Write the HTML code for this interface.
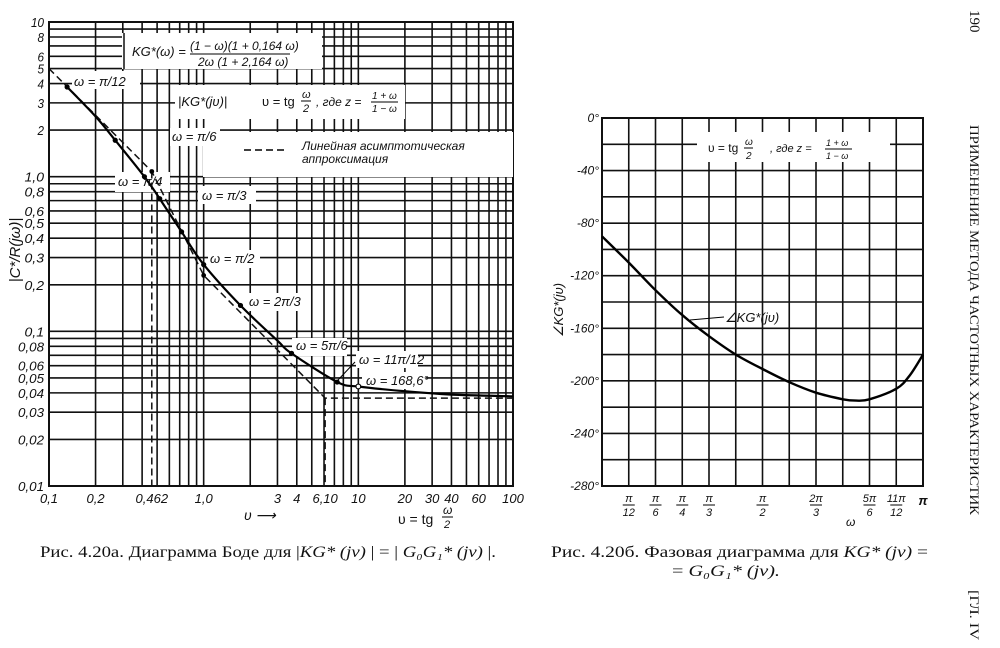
<!DOCTYPE html>
<html><head><meta charset="utf-8"><style>
html,body{margin:0;padding:0;background:#fff;}
svg{display:block;}
text{font-family:"Liberation Sans",sans-serif;fill:#111;}
.it{font-style:italic;}
</style></head><body>
<svg id="page" width="1000" height="648" viewBox="0 0 1000 648" xmlns="http://www.w3.org/2000/svg">
<g id="bode"></g>
<g id="phase"></g>
<g>
<text x="40" y="557" font-size="16" textLength="456" lengthAdjust="spacingAndGlyphs" style="font-family:'Liberation Serif',serif">Рис. 4.20а. Диаграмма Боде для  |<tspan font-style="italic">KG* (jv)</tspan> | = | <tspan font-style="italic">G₀G₁* (jv)</tspan> |.</text>
<text x="551" y="557" font-size="16" textLength="377" lengthAdjust="spacingAndGlyphs" style="font-family:'Liberation Serif',serif">Рис.  4.20б. Фазовая диаграмма для <tspan font-style="italic">KG* (jv)</tspan> =</text>
<text x="672" y="576" font-size="16" textLength="108" lengthAdjust="spacingAndGlyphs" style="font-family:'Liberation Serif',serif">= <tspan font-style="italic">G₀G₁* (jv).</tspan></text>
<text transform="translate(970,10) rotate(90)" font-size="15" style="font-family:'Liberation Serif',serif">190</text>
<text transform="translate(970,125) rotate(90)" font-size="13" textLength="390" lengthAdjust="spacingAndGlyphs" style="font-family:'Liberation Serif',serif">ПРИМЕНЕНИЕ  МЕТОДА  ЧАСТОТНЫХ  ХАРАКТЕРИСТИК</text>
<text transform="translate(970,590) rotate(90)" font-size="13" textLength="50" lengthAdjust="spacingAndGlyphs" style="font-family:'Liberation Serif',serif">[ГЛ. IV</text>
</g>
</svg>
<script>
// ---- Bode magnitude data ----
const magV = [0.131, 0.2, 0.268, 0.414, 0.52, 0.72, 1.0, 1.73, 3.0, 3.7, 7.3, 10, 20, 40, 100];
const magVal = [3.8, 2.45, 1.72, 1.0, 0.72, 0.44, 0.27, 0.147, 0.087, 0.072, 0.047, 0.044, 0.041, 0.039, 0.038];
const dotV = [0.131, 0.268, 0.414, 0.52, 0.72, 1.0, 1.73, 3.7, 7.3];
const dotVal = [3.8, 1.72, 1.0, 0.72, 0.44, 0.27, 0.147, 0.072, 0.047];
const asymV = [0.1, 0.462, 1.0, 6.1, 100];
const asymVal = [5.0, 1.08, 0.23, 0.037, 0.037];
const magYTicks = [10, 8, 6, 5, 4, 3, 2, 1.0, 0.8, 0.6, 0.5, 0.4, 0.3, 0.2, 0.1, 0.08, 0.06, 0.05, 0.04, 0.03, 0.02, 0.01];
const magYLabels = ["10","8","6","5","4","3","2","1,0","0,8","0,6","0,5","0,4","0,3","0,2","0,1","0,08","0,06","0,05","0,04","0,03","0,02","0,01"];
const magXTicks = [0.1, 0.2, 0.462, 1.0, 3, 4, 6.1, 10, 20, 30, 40, 60, 100];
const magXLabels = ["0,1","0,2","0,462","1,0","3","4","6,10","10","20","30","40","60","100"];
// ---- Phase data (omega in units of pi) ----
const phW = [0, 1/12, 2/12, 3/12, 4/12, 5/12, 6/12, 7/12, 8/12, 9/12, 9.5/12, 10/12, 11/12, 11.5/12, 1];
const phDeg = [-90, -110, -131, -150, -166, -180, -191, -201, -209, -214, -215, -214, -206, -196, -180];
const phYTicks = [0, -40, -80, -120, -160, -200, -240, -280];
const phXNum = ["π","π","π","π","π","2π","5π","11π"];
const phXDen = ["12","6","4","3","2","3","6","12"];
const phXVals = [1/12, 1/6, 1/4, 1/3, 1/2, 2/3, 5/6, 11/12];

const NS = "http://www.w3.org/2000/svg";
function mk(parent, tag, attrs, txt) {
  const e = document.createElementNS(NS, tag);
  for (const k in attrs) e.setAttribute(k, attrs[k]);
  if (txt !== undefined) e.textContent = txt;
  parent.appendChild(e);
  return e;
}
const L = {x0: 49, x1: 513, y0: 486, y1: 22};
function bx(v) { return L.x0 + (Math.log10(v) + 1) / 3 * (L.x1 - L.x0); }
function by(m) { return L.y0 - (Math.log10(m) + 2) / 3 * (L.y0 - L.y1); }
const bode = document.getElementById('bode');
const grid = mk(bode, 'g', {stroke: '#111', 'stroke-width': 1.6});


for (let d = -1; d < 2; d++) for (let k = 1; k < 10; k++) {
  const x = bx(k * Math.pow(10, d));
  mk(grid, 'line', {x1: x, x2: x, y1: L.y1, y2: L.y0});
}
for (let d = -2; d < 1; d++) for (let k = 1; k < 10; k++) {
  const y = by(k * Math.pow(10, d));
  mk(grid, 'line', {x1: L.x0, x2: L.x1, y1: y, y2: y});
}
mk(grid, 'rect', {x: L.x0, y: L.y1, width: L.x1 - L.x0, height: L.y0 - L.y1, fill: 'none', 'stroke-width': 2});
const boxes = [[122,33,200,36],[175,85,230,34],[203,132,310,45],[72,71,68,18],[170,128,50,18],[115,172,55,20],[198,186,58,18],[208,250,52,18],[246,293,55,18],[292,338,55,18],[356,351,62,17],[362,372,64,17]];
for (const b of boxes) {
  const r = mk(bode, 'rect', {x: b[0], y: b[1], width: b[2], height: b[3], fill: '#fff'});
  
  
}
mk(bode, 'line', {x1: 124, y1: 33, x2: 124, y2: 69, stroke: '#111', 'stroke-width': 1.5});
let d = '';
asymV.forEach((v, i) => { d += (i ? 'L' : 'M') + bx(v).toFixed(1) + ',' + by(asymVal[i]).toFixed(1); });
const asym = mk(bode, 'path', {d: d, fill: 'none', stroke: '#111', 'stroke-width': 1.5, 'stroke-dasharray': '7,4'});


const vd1 = mk(bode, 'line', {x1: bx(0.462), x2: bx(0.462), y1: by(1.08), y2: L.y0, stroke: '#111', 'stroke-width': 1.5, 'stroke-dasharray': '7,4'});


const vd2 = mk(bode, 'line', {x1: bx(6.1), x2: bx(6.1), y1: by(0.037), y2: L.y0, stroke: '#111', 'stroke-width': 1.5, 'stroke-dasharray': '7,4'});


function smooth(pts) {
  let s = 'M' + pts[0][0].toFixed(1) + ',' + pts[0][1].toFixed(1);
  for (let i = 0; i < pts.length - 1; i++) {
    const p0 = pts[Math.max(0, i - 1)], p1 = pts[i], p2 = pts[i + 1], p3 = pts[Math.min(pts.length - 1, i + 2)];
    const c1 = [p1[0] + (p2[0] - p0[0]) / 6, p1[1] + (p2[1] - p0[1]) / 6];
    const c2 = [p2[0] - (p3[0] - p1[0]) / 6, p2[1] - (p3[1] - p1[1]) / 6];
    s += 'C' + c1.map(n => n.toFixed(1)) + ' ' + c2.map(n => n.toFixed(1)) + ' ' + p2[0].toFixed(1) + ',' + p2[1].toFixed(1);
  }
  return s;
}
const mc = mk(bode, 'path', {d: smooth(magV.map((v, i) => [bx(v), by(magVal[i])])), fill: 'none', stroke: '#000', 'stroke-width': 2.2});


dotV.forEach((v, i) => {
  const c = mk(bode, 'circle', {cx: bx(v), cy: by(dotVal[i]), r: 2.6, fill: '#000'});
  
  
});
const od = mk(bode, 'circle', {cx: bx(10), cy: by(0.044), r: 2.4, fill: '#fff', stroke: '#000', 'stroke-width': 1.2});


[[0.462,1.08],[1.0,0.23]].forEach(p => {
  const c = mk(bode, 'circle', {cx: bx(p[0]), cy: by(p[1]), r: 2.4, fill: '#000'});
  
  
});
mk(bode, 'line', {x1: 338, y1: 380, x2: 355, y2: 362, stroke: '#000', 'stroke-width': 1});
magYTicks.forEach((t, i) => {
  const e = mk(bode, 'text', {x: 44, y: by(t) + 5, 'text-anchor': 'end', 'font-size': 13, class: 'it', textLength: magYLabels[i].length * 6.5, lengthAdjust: 'spacingAndGlyphs'}, magYLabels[i]);
  
  
});
magXTicks.forEach((t, i) => {
  const e = mk(bode, 'text', {x: bx(t), y: 503, 'text-anchor': 'middle', 'font-size': 13, class: 'it'}, magXLabels[i]);
  
  
});
const ytitle = mk(bode, 'text', {transform: 'translate(20,250) rotate(-90)', 'text-anchor': 'middle', 'font-size': 15, class: 'it'}, '|C*/R(jω)|');


const xt1 = mk(bode, 'text', {x: 244, y: 520, 'font-size': 14, class: 'it'}, 'υ  ⟶');


const xt2 = mk(bode, 'text', {x: 398, y: 524, 'font-size': 14}, 'υ = tg');


mk(bode, 'text', {x: 443, y: 514, 'font-size': 12, class: 'it'}, 'ω');
mk(bode, 'line', {x1: 442, x2: 453, y1: 517, y2: 517, stroke: '#000', 'stroke-width': 1});
mk(bode, 'text', {x: 444, y: 528, 'font-size': 11, class: 'it'}, '2');
const ann = [[74,86,'ω = π/12'],[172,141,'ω = π/6'],[118,186,'ω = π/4'],[202,200,'ω = π/3'],[210,263,'ω = π/2'],[249,306,'ω = 2π/3'],[296,350,'ω = 5π/6'],[359,364,'ω = 11π/12'],[366,385,'ω = 168,6°']];
ann.forEach(a => {
  const e = mk(bode, 'text', {x: a[0], y: a[1], 'font-size': 13, class: 'it'}, a[2]);
  
  
});
const f1 = mk(bode, 'text', {x: 132, y: 56, 'font-size': 13, class: 'it'}, 'KG*(ω) =');


mk(bode, 'text', {x: 190, y: 50, 'font-size': 12, class: 'it'}, '(1 − ω)(1 + 0,164 ω)');
mk(bode, 'line', {x1: 190, x2: 290, y1: 54, y2: 54, stroke: '#000', 'stroke-width': 1});
mk(bode, 'text', {x: 198, y: 66, 'font-size': 12, class: 'it'}, '2ω (1 + 2,164 ω)');
const f2 = mk(bode, 'text', {x: 178, y: 106, 'font-size': 13, class: 'it'}, '|KG*(jυ)|');


mk(bode, 'text', {x: 262, y: 106, 'font-size': 13}, 'υ = tg');
mk(bode, 'text', {x: 302, y: 98, 'font-size': 11, class: 'it'}, 'ω');
mk(bode, 'line', {x1: 301, x2: 311, y1: 101, y2: 101, stroke: '#000', 'stroke-width': 1});
mk(bode, 'text', {x: 303, y: 112, 'font-size': 11, class: 'it'}, '2');
mk(bode, 'text', {x: 316, y: 106, 'font-size': 12, class: 'it'}, ',  где  z =');
mk(bode, 'text', {x: 372, y: 99, 'font-size': 10, class: 'it'}, '1 + ω');
mk(bode, 'line', {x1: 371, x2: 398, y1: 102, y2: 102, stroke: '#000', 'stroke-width': 1});
mk(bode, 'text', {x: 372, y: 112, 'font-size': 10, class: 'it'}, '1 − ω');
const lg = mk(bode, 'line', {x1: 244, x2: 286, y1: 150, y2: 150, stroke: '#000', 'stroke-width': 1.5, 'stroke-dasharray': '7,4'});


const lt = mk(bode, 'text', {x: 302, y: 150, 'font-size': 12, class: 'it'}, 'Линейная   асимптотическая');


mk(bode, 'text', {x: 302, y: 163, 'font-size': 12, class: 'it'}, 'аппроксимация');

const P = {x0: 602, x1: 923, y0: 118, y1: 486};
function px(w) { return P.x0 + w * (P.x1 - P.x0); }
function py(deg) { return P.y0 + (-deg) / 280 * (P.y1 - P.y0); }
const ph = document.getElementById('phase');
const pg = mk(ph, 'g', {stroke: '#111', 'stroke-width': 1.6});


for (let k = 1; k < 12; k++) mk(pg, 'line', {x1: px(k / 12), x2: px(k / 12), y1: P.y0, y2: P.y1});
for (let k = 1; k < 14; k++) mk(pg, 'line', {x1: P.x0, x2: P.x1, y1: py(-20 * k), y2: py(-20 * k)});
mk(pg, 'rect', {x: P.x0, y: P.y0, width: P.x1 - P.x0, height: P.y1 - P.y0, fill: 'none', 'stroke-width': 2});
const pb = mk(ph, 'rect', {x: 697, y: 132, width: 193, height: 30, fill: '#fff'});


mk(ph, 'text', {x: 708, y: 152, 'font-size': 12}, 'υ = tg');
mk(ph, 'text', {x: 745, y: 145, 'font-size': 10, class: 'it'}, 'ω');
mk(ph, 'line', {x1: 744, x2: 753, y1: 148, y2: 148, stroke: '#000', 'stroke-width': 1});
mk(ph, 'text', {x: 746, y: 159, 'font-size': 10, class: 'it'}, '2');
mk(ph, 'text', {x: 770, y: 152, 'font-size': 11, class: 'it'}, ',  где  z =');
mk(ph, 'text', {x: 826, y: 146, 'font-size': 9, class: 'it'}, '1 + ω');
mk(ph, 'line', {x1: 825, x2: 852, y1: 149, y2: 149, stroke: '#000', 'stroke-width': 1});
mk(ph, 'text', {x: 826, y: 159, 'font-size': 9, class: 'it'}, '1 − ω');
const pc = mk(ph, 'path', {d: smooth(phW.map((w, i) => [px(w), py(phDeg[i])])), fill: 'none', stroke: '#000', 'stroke-width': 2.4});


mk(ph, 'line', {x1: 690, y1: 320, x2: 724, y2: 317, stroke: '#000', 'stroke-width': 1});
const cl = mk(ph, 'text', {x: 725, y: 322, 'font-size': 13, class: 'it'}, '∠KG*(jυ)');


phYTicks.forEach(t => {
  const e = mk(ph, 'text', {x: 599, y: py(t) + 4, 'text-anchor': 'end', 'font-size': 12, class: 'it'}, t + '°');
  
  
});
phXVals.forEach((w, i) => {
  const e = mk(ph, 'text', {x: px(w), y: 502, 'text-anchor': 'middle', 'font-size': 11, class: 'it'}, phXNum[i]);
  
  
  mk(ph, 'line', {x1: px(w) - 6, x2: px(w) + 6, y1: 505, y2: 505, stroke: '#000', 'stroke-width': 1});
  mk(ph, 'text', {x: px(w), y: 516, 'text-anchor': 'middle', 'font-size': 11, class: 'it'}, phXDen[i]);
});
const pil = mk(ph, 'text', {x: px(1), y: 505, 'text-anchor': 'middle', 'font-size': 13, 'font-weight': 'bold', class: 'it'}, 'π');


const pxt = mk(ph, 'text', {x: 846, y: 526, 'font-size': 12, class: 'it'}, 'ω');


const pyt = mk(ph, 'text', {transform: 'translate(563,310) rotate(-90)', 'text-anchor': 'middle', 'font-size': 13, class: 'it'}, '∠KG*(jυ)');


</script>
</body></html>
